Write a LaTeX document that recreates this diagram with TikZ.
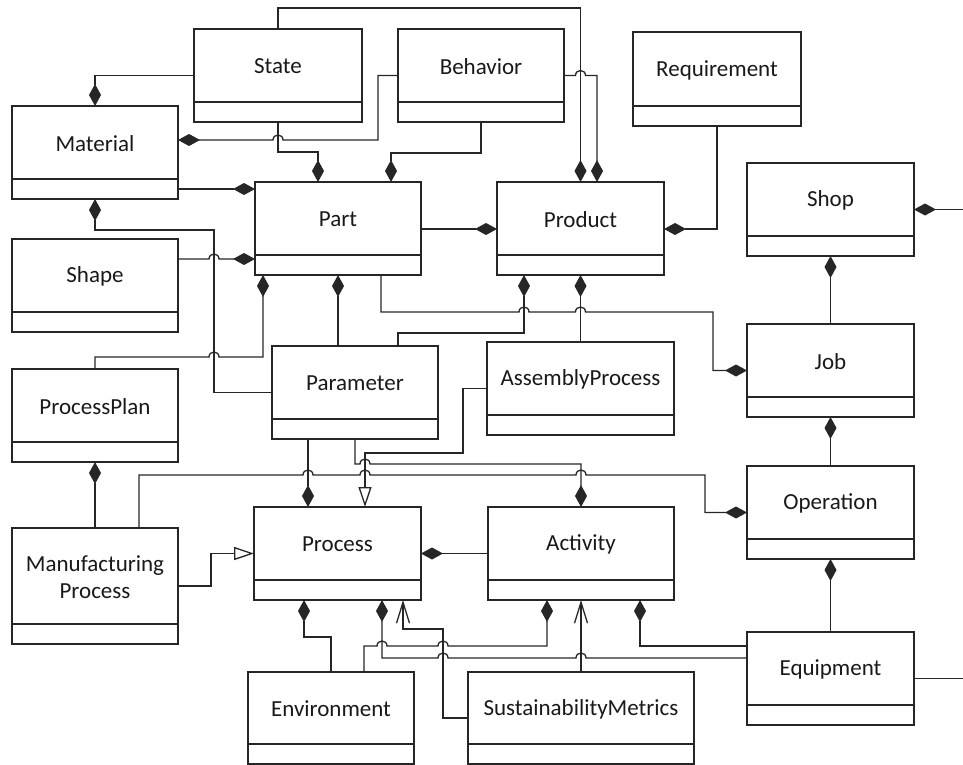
\documentclass[tikz,border=0pt]{standalone}
\usepackage{fontspec}
\setmainfont{Carlito}
\usetikzlibrary{arrows.meta}
\newcommand\umlcls[6]{%
  \node[clsbox, minimum width={(#4-#2)*1pt}, minimum height={(#5-#3)*1pt}] (#1) at ({(#2+#4)/2},{(#3+#5)/2}) {};
  \draw[clsline] (#2,{#5-20}) -- (#4,{#5-20});
  \node[clslabel] (#1-label) at ({(#2+#4)/2},{(#3+#5-20)/2+1}) {#6};
}
\begin{document}
\begin{tikzpicture}[x=1pt,y=-1pt,
  clsbox/.style={draw=black!85, line width=1.4pt, inner sep=0pt, outer sep=0pt, rectangle},
  clsline/.style={draw=black!85, line width=1.4pt},
  clslabel/.style={font=\fontsize{23}{27}\selectfont, align=center, text=black!90, inner sep=0pt},
  conn/.style={draw=black!85, line width=1.3pt, line join=miter},
  tocomp/.style={-{Diamond[length=22pt,width=12pt]}},
  togen/.style={-{Triangle[open,length=20pt,width=13pt]}},
  tonav/.style={-{Straight Barb[length=21pt,width=13pt]}}]
\useasboundingbox (0,0) rectangle (963,765);

\umlcls{State}{194}{29}{362}{122}{State}
\umlcls{Behavior}{398}{29}{564}{122}{Behavior}
\umlcls{Requirement}{633}{32}{801}{126}{Requirement}
\umlcls{Material}{12}{106}{178}{199}{Material}
\umlcls{Part}{255}{182}{421}{275}{Part}
\umlcls{Product}{497}{182}{664}{275}{Product}
\umlcls{Shop}{747}{163}{914}{256}{Shop}
\umlcls{Shape}{12}{239}{178}{332}{Shape}
\umlcls{Parameter}{272}{346}{438}{439}{Parameter}
\umlcls{AssemblyProcess}{487}{342}{674}{435}{AssemblyProcess}
\umlcls{Job}{747}{324}{914}{417}{Job}
\umlcls{ProcessPlan}{12}{369}{178}{462}{ProcessPlan}
\umlcls{Operation}{747}{466}{914}{559}{Operation}
\umlcls{Process}{254}{507}{421}{600}{Process}
\umlcls{Activity}{488}{507}{674}{600}{Activity}
\umlcls{MfgProcess}{12}{528}{178}{644}{Manufacturing\\Process}
\umlcls{Equipment}{747}{632}{914}{725}{Equipment}
\umlcls{Environment}{248}{672}{414}{764}{Environment}
\umlcls{Sustainability}{468}{672}{694}{764}{SustainabilityMetrics}

% upper part
\draw[conn,tocomp] (State.west) -| (Material.north);
\draw[conn,tocomp] (Behavior.west) -| (378,140) -- (283,140) .. controls +(0,-6.6) and +(0,-6.6) .. (273,140) -- (Material.east |- 0,140);
\draw[conn,tocomp] (State.south) |- (318,152) -- (Part.north -| 318,0);
\draw[conn,tocomp] (Behavior.south) |- (391,153) -- (Part.north -| 391,0);
\draw[conn,tocomp] (State.north) |- (580.5,8) -- (Product.north);
\draw[conn,tocomp] (Behavior.east) -- (575.5,75.5) .. controls +(0,-6.6) and +(0,-6.6) .. (585.5,75.5) -| (Product.north -| 597,0);
\draw[conn,tocomp] (Material.east |- 0,189) -- (Part.west |- 0,189);
\draw[conn,tocomp] (Part.east |- 0,229) -- (Product.west |- 0,229);
\draw[conn,tocomp] (Requirement.south) |- (Product.east |- 0,229);
\draw[conn,tocomp] (Shop.east -| 963,0) -- (Shop.east);
\draw[conn,tocomp] (Job.north) -- (Shop.south);
\draw[conn,tocomp] (Operation.north) -- (Job.south);
\draw[conn,tocomp] (Equipment.north) -- (Operation.south);

% middle part
\draw[conn,tocomp] (Parameter.west) -| (214,230) -| (Material.south);
\draw[conn,tocomp] (Shape.east |- 0,259) -- (209,259) .. controls +(0,-6.6) and +(0,-6.6) .. (219,259) -- (Part.west |- 0,259);
\draw[conn,tocomp] (ProcessPlan.north) |- (209,357) .. controls +(0,-6.6) and +(0,-6.6) .. (219,357) -| (Part.south -| 263,0);
\draw[conn,tocomp] (Parameter.north -| 338,0) -- (Part.south -| 338,0);
\draw[conn,tocomp] (Part.south -| 381,0) |- (519,312) .. controls +(0,-6.6) and +(0,-6.6) .. (529,312) -- (575.5,312) .. controls +(0,-6.6) and +(0,-6.6) .. (585.5,312) -| (Job.west -| 713,0) -- (Job.west);
\draw[conn,tocomp] (Parameter.north -| 398,0) |- (524,333) -- (Product.south -| 524,0);
\draw[conn,tocomp] (AssemblyProcess.north) -- (Product.south);
\draw[conn,togen] (AssemblyProcess.west) -| (463,453) -| (Process.north -| 365,0);
\draw[conn,tocomp] (Parameter.south -| 308,0) -- (Process.north -| 308,0);
\draw[conn,tocomp] (Parameter.south -| 355,0) |- (360,464) .. controls +(0,-6.6) and +(0,-6.6) .. (370,464) -| (Activity.north);
\draw[conn,tocomp] (MfgProcess.north -| 139,0) |- (303,475) .. controls +(0,-6.6) and +(0,-6.6) .. (313,475) -- (360,475) .. controls +(0,-6.6) and +(0,-6.6) .. (370,475) -- (576,475) .. controls +(0,-6.6) and +(0,-6.6) .. (586,475) -| (Operation.west -| 705,0) -- (Operation.west);
\draw[conn,tocomp] (MfgProcess.north) -- (ProcessPlan.south);

% lower part
\draw[conn,togen] (MfgProcess.east) -| (211,553.5) -- (Process.west);
\draw[conn,tocomp] (Activity.west) -- (Process.east);
\draw[conn,tocomp] (Environment.north) |- (304,637) -- (Process.south -| 304,0);
\draw[conn,tocomp] (Equipment.west |- 0,658) -- (586,658) .. controls +(0,-6.6) and +(0,-6.6) .. (576,658) -- (448,658) .. controls +(0,-6.6) and +(0,-6.6) .. (438,658) -| (Process.south -| 382,0);
\draw[conn,tocomp] (Environment.north -| 364,0) |- (377,646) .. controls +(0,-6.6) and +(0,-6.6) .. (387,646) -- (438,646) .. controls +(0,-6.6) and +(0,-6.6) .. (448,646) -| (Activity.south -| 547,0);
\draw[conn,tonav] (Sustainability.west) -| (443,629) -| (Process.south -| 403,0);
\draw[conn,tonav] (Sustainability.north) -- (Activity.south);
\draw[conn,tocomp] (Equipment.west |- 0,646) -| (Activity.south -| 640,0);
\draw[conn] (Equipment.east) -- (Equipment.east -| 963,0);
\end{tikzpicture}
\end{document}
